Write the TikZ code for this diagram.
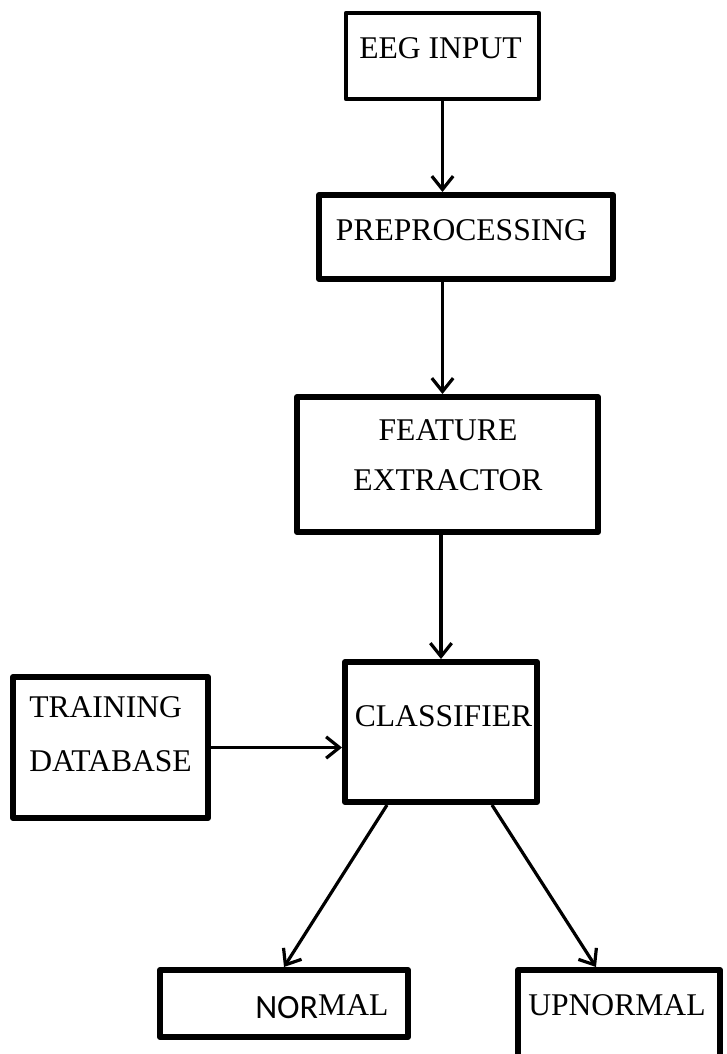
\documentclass[tikz,border=0pt]{standalone}
\usepackage{fontspec}
\setmainfont{Liberation Serif}
\newfontfamily\calfont{Carlito}
\usetikzlibrary{positioning, arrows.meta, calc}
\newcommand{\pxl}{0.75pt}
\tikzset{
  blk/.style={draw, line width=4.5pt, line join=round, inner sep=0pt},
  lbl/.style={inner sep=0pt, font=\fontsize{23.7}{37.5}\selectfont},
  arr/.style={line width=2.4pt, -{Straight Barb[length=10pt, width=16pt]}}
}

\begin{document}
\begin{tikzpicture}[x=\pxl, y=-\pxl]
    \clip (0,0) rectangle (726,1054);
    % boxes
    \node[blk, line width=3.6pt, minimum width=193*\pxl, minimum height=86*\pxl] (eeg) at (442.5,56) {};
    \node[blk, minimum width=294*\pxl, minimum height=84*\pxl] (pre) at (466,237) {};
    \node[blk, minimum width=301*\pxl, minimum height=135*\pxl] (feat) at (447.5,464.5) {};
    \node[blk, minimum width=192*\pxl, minimum height=140*\pxl] (cls) at (441,732) {};
    \node[blk, minimum width=195*\pxl, minimum height=141*\pxl] (train) at (110.5,747.5) {};
    \node[blk, minimum width=248*\pxl, minimum height=67*\pxl] (nor) at (284,1003.5) {};
    \node[blk, minimum width=202*\pxl, minimum height=105*\pxl] (upn) at (619,1022.5) {};
    % texts (base = last line)
    \node[lbl, anchor=base] (teeg) at (440.5,58.5) {EEG INPUT};
    \node[lbl, anchor=base] (tpre) at (461.5,240) {PREPROCESSING};
    \node[lbl, anchor=base, align=center] (tfeat) at (448,490) {FEATURE\\EXTRACTOR};
    \node[lbl, anchor=base] (tcls) at (443.5,726) {CLASSIFIER};
    \node[lbl, anchor=base west, align=left, font=\fontsize{23.7}{40.5}\selectfont] (ttrain) at (29,771) {TRAINING\\DATABASE};
    \node[lbl, anchor=base west] (tnor) at (255,1018) {{\calfont\fontsize{25.5}{30}\selectfont NOR}\raisebox{2pt}{MAL}};
    \node[lbl, anchor=base west] (tupn) at (528,1015) {UPNORMAL};
    % arrows
    \draw[arr] (eeg.south) -- (eeg.south |- pre.north);
    \draw[arr] (eeg.south |- pre.south) -- (eeg.south |- feat.north);
    \draw[arr] (cls.north |- feat.south) -- (cls.north);
    \draw[arr] (train.east) -- (train.east -| cls.west);
    \draw[arr] ($(cls.south)+(-54,0)$) -- (nor.north);
    \draw[arr] ($(cls.south)+(51,0)$) -- ($(upn.north)+(-23,0)$);
\end{tikzpicture}
\end{document}
